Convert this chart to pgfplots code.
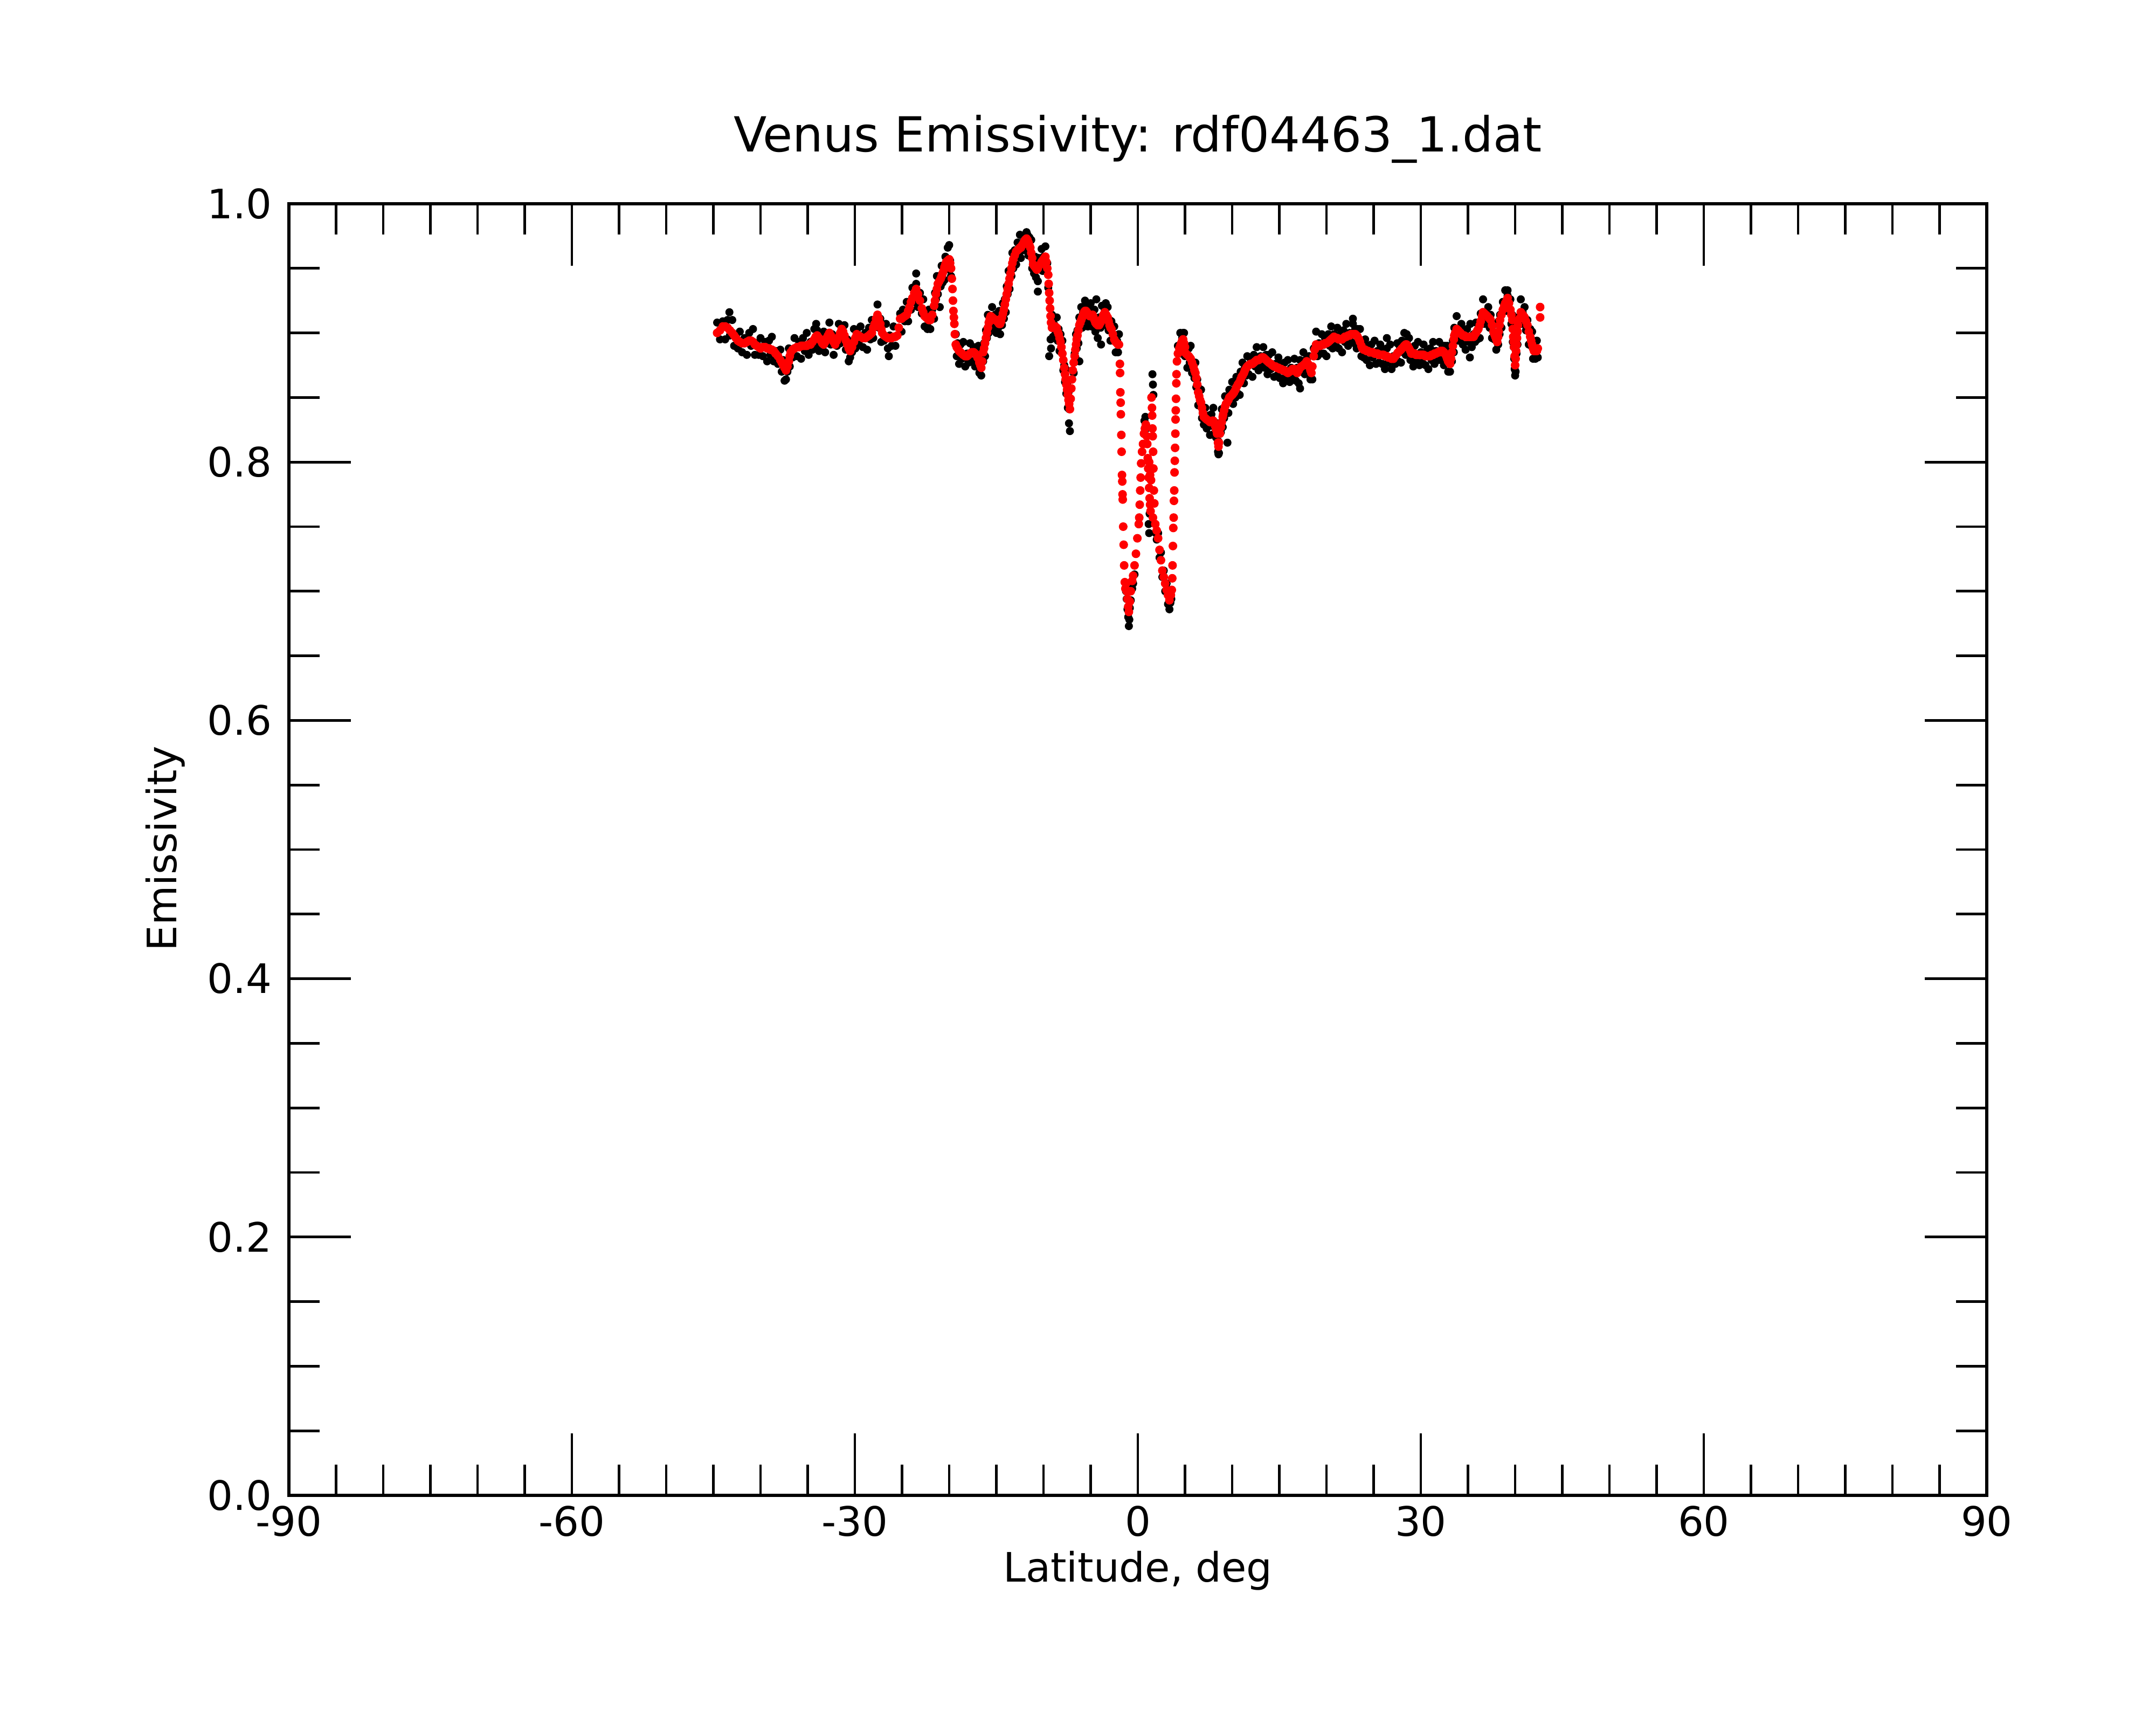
\documentclass[border=0pt]{standalone}
\usepackage{fontspec}
\setmainfont{DejaVu Sans}
\usepackage{pgfplots}
\pgfplotsset{compat=1.18}
\begin{document}
\begin{tikzpicture}
\useasboundingbox (0,0) rectangle (10in,8in);
\begin{axis}[
  at={(1.34in,1.065in)}, anchor=south west,
  scale only axis, width=7.875in, height=5.99in,
  xmin=-90, xmax=90, ymin=0, ymax=1,
  xtick={-90,-60,-30,0,30,60,90},
  xticklabels={-90,-60,-30,0,30,60,90},
  ytick={0,0.2,0.4,0.6,0.8,1.0},
  yticklabels={0.0,0.2,0.4,0.6,0.8,1.0},
  minor x tick num=5, minor y tick num=3,
  tick pos=both, tick align=inside,
  major tick length=20.7pt, minor tick length=10.3pt,
  every tick/.style={black, line width=0.85pt},
  axis line style={line width=0.95pt},
  tick label style={font=\fontsize{13.6}{16}\selectfont},
  yticklabel style={xshift=-2.2pt},
  clip=false,
]
\addplot[only marks, mark=*, mark size=1.15pt, black, mark options={draw=none,fill=black}] table {
x y
-44.6 0.908
-44.3 0.895
-44.0 0.909
-43.75 0.895
-43.5 0.910
-43.3 0.916
-43.25 0.898
-43.0 0.910
-42.8 0.890
-42.6 0.898
-42.4 0.888
-42.2 0.901
-41.95 0.885
-41.7 0.896
-41.45 0.883
-41.2 0.900
-41.0 0.890
-40.8 0.903
-40.6 0.883
-40.4 0.892
-40.2 0.883
-40.0 0.896
-39.75 0.882
-39.5 0.893
-39.3 0.878
-39.1 0.894
-38.95 0.883
-38.8 0.897
-38.6 0.878
-38.4 0.886
-38.15 0.876
-37.9 0.887
-37.75 0.870
-37.6 0.879
-37.45 0.863
-37.3 0.877
-37.3 0.864
-37.15 0.870
-37.0 0.888
-36.9 0.874
-36.8 0.887
-36.6 0.881
-36.4 0.896
-36.15 0.882
-35.9 0.893
-35.7 0.880
-35.5 0.896
-35.3 0.886
-35.1 0.900
-34.9 0.883
-34.7 0.893
-34.5 0.887
-34.3 0.903
-34.15 0.890
-34.1 0.907
-34.0 0.902
-33.8 0.886
-33.6 0.900
-33.45 0.888
-33.3 0.901
-33.15 0.885
-33.0 0.898
-32.85 0.892
-32.7 0.908
-32.55 0.891
-32.4 0.899
-32.25 0.883
-32.1 0.897
-31.9 0.890
-31.7 0.907
-31.55 0.892
-31.4 0.905
-31.25 0.895
-31.1 0.906
-30.95 0.887
-30.8 0.895
-30.65 0.878
-30.5 0.892
-30.5 0.881
-30.3 0.885
-30.1 0.903
-29.95 0.888
-29.8 0.901
-29.6 0.892
-29.4 0.905
-29.15 0.889
-28.9 0.900
-28.7 0.887
-28.5 0.904
-28.35 0.895
-28.2 0.910
-28.05 0.896
-27.9 0.909
-27.75 0.905
-27.6 0.922
-27.45 0.904
-27.3 0.911
-27.2 0.893
-27.1 0.906
-26.9 0.894
-26.7 0.907
-26.5 0.888
-26.4 0.882
-26.3 0.898
-26.1 0.890
-25.9 0.905
-25.7 0.890
-25.2 0.915
-25.05 0.901
-24.9 0.918
-24.7 0.909
-24.5 0.924
-24.35 0.909
-24.2 0.922
-24.05 0.918
-23.9 0.935
-23.7 0.924
-23.5 0.938
-23.5 0.946
-23.3 0.920
-23.1 0.931
-22.9 0.915
-22.75 0.926
-22.6 0.905
-22.45 0.914
-22.3 0.905
-22.3 0.903
-22.15 0.918
-22.0 0.903
-21.8 0.918
-21.6 0.911
-21.5 0.931
-21.4 0.926
-21.3 0.944
-21.2 0.930
-21.05 0.942
-21.0 0.920
-20.9 0.936
-20.8 0.952
-20.7 0.939
-20.6 0.952
-20.5 0.941
-20.4 0.959
-20.3 0.951
-20.15 0.966
-20.0 0.949
-20.0 0.968
-19.9 0.956
-19.8 0.944
-19.3 0.899
-19.2 0.882
-19.1 0.892
-18.95 0.876
-18.8 0.891
-18.65 0.880
-18.5 0.893
-18.3 0.874
-18.1 0.884
-17.95 0.877
-17.8 0.892
-17.6 0.878
-17.4 0.889
-17.25 0.874
-17.1 0.889
-17.0 0.877
-16.9 0.890
-16.8 0.869
-16.7 0.877
-16.6 0.867
-16.5 0.886
-16.4 0.878
-16.3 0.892
-16.2 0.882
-16.1 0.902
-16.0 0.896
-15.9 0.914
-15.8 0.900
-15.7 0.913
-15.6 0.907
-15.45 0.920
-15.3 0.904
-15.15 0.914
-15.0 0.900
-14.9 0.915
-14.8 0.904
-14.7 0.917
-14.6 0.899
-14.5 0.911
-14.4 0.906
-14.3 0.923
-14.2 0.911
-14.1 0.926
-14.0 0.916
-13.9 0.936
-13.8 0.930
-13.7 0.948
-13.6 0.934
-13.5 0.948
-13.4 0.944
-13.3 0.962
-13.2 0.950
-13.05 0.964
-12.9 0.953
-12.75 0.970
-12.6 0.961
-12.5 0.976
-12.4 0.958
-12.25 0.970
-12.1 0.964
-11.95 0.976
-11.8 0.966
-11.8 0.978
-11.7 0.976
-11.6 0.960
-11.5 0.974
-11.4 0.962
-11.3 0.972
-11.2 0.950
-11.1 0.955
-11.0 0.946
-10.9 0.959
-10.8 0.943
-10.7 0.953
-10.6 0.940
-10.6 0.932
-10.5 0.958
-10.35 0.949
-10.2 0.965
-10.1 0.948
-10.0 0.959
-9.9 0.952
-9.8 0.967
-9.7 0.948
-9.6 0.954
-9.5 0.935
-9.4 0.882
-9.25 0.895
-9.2 0.888
-9.1 0.914
-9.0 0.897
-8.9 0.907
-8.75 0.899
-8.6 0.912
-8.5 0.894
-8.4 0.903
-8.3 0.886
-8.2 0.899
-8.1 0.885
-8.0 0.894
-7.9 0.871
-7.8 0.875
-7.72 0.862
-7.65 0.872
-7.58 0.853
-7.5 0.860
-7.42 0.842
-7.35 0.854
-7.3 0.830
-7.28 0.841
-7.2 0.824
-6.8 0.869
-6.7 0.884
-6.62 0.881
-6.55 0.899
-6.48 0.888
-6.4 0.902
-6.3 0.892
-6.2 0.912
-6.2 0.878
-6.1 0.904
-6.0 0.920
-5.9 0.904
-5.8 0.916
-5.7 0.910
-5.6 0.925
-5.5 0.910
-5.4 0.920
-5.3 0.905
-5.2 0.920
-5.1 0.909
-5.0 0.923
-4.9 0.905
-4.8 0.916
-4.7 0.906
-4.6 0.918
-4.5 0.901
-4.4 0.911
-4.4 0.926
-4.25 0.896
-4.1 0.912
-3.95 0.904
-3.9 0.891
-3.8 0.921
-3.65 0.906
-3.5 0.918
-3.4 0.923
-3.35 0.908
-3.2 0.920
-3.1 0.902
-3.0 0.910
-2.9 0.894
-2.8 0.909
-2.65 0.895
-2.5 0.905
-2.35 0.885
-2.2 0.894
-2.1 0.885
-2.0 0.899
-1.25 0.700
-1.18 0.694
-1.1 0.686
-1.02 0.680
-0.95 0.673
-0.9 0.678
-0.85 0.687
-0.75 0.693
-0.6 0.702
-0.5 0.706
-0.35 0.713
0.7 0.832
0.8 0.835
0.9 0.826
1.15 0.752
1.2 0.745
1.25 0.760
1.55 0.868
1.6 0.860
1.65 0.852
1.9 0.745
2.0 0.740
2.15 0.745
2.3 0.726
2.45 0.730
2.6 0.711
2.75 0.716
2.9 0.700
3.05 0.706
3.2 0.690
3.35 0.686
3.45 0.691
3.55 0.694
4.25 0.890
4.4 0.884
4.5 0.900
4.6 0.884
4.7 0.896
4.8 0.889
4.8 0.900
4.9 0.900
5.0 0.882
5.1 0.888
5.25 0.873
5.4 0.888
5.5 0.877
5.6 0.890
5.75 0.869
5.9 0.876
6.0 0.865
6.1 0.877
6.2 0.858
6.3 0.864
6.4 0.844
6.5 0.857
6.6 0.844
6.7 0.856
6.8 0.834
6.9 0.840
7.0 0.829
7.15 0.842
7.3 0.826
7.5 0.836
7.65 0.821
7.8 0.837
7.9 0.828
8.0 0.842
8.1 0.822
8.2 0.830
8.3 0.819
8.4 0.830
8.5 0.808
8.55 0.816
8.55 0.806
8.6 0.807
8.7 0.828
8.8 0.823
8.9 0.841
9.0 0.827
9.05 0.839
9.15 0.834
9.25 0.851
9.35 0.838
9.45 0.850
9.5 0.815
9.6 0.838
9.7 0.856
9.85 0.847
10.0 0.862
10.1 0.845
10.2 0.856
10.35 0.850
10.45 0.866
10.6 0.853
10.7 0.865
10.8 0.852
10.9 0.870
11.0 0.862
11.1 0.877
11.25 0.861
11.35 0.873
11.5 0.867
11.6 0.882
11.75 0.868
11.95 0.880
12.15 0.866
12.3 0.883
12.45 0.874
12.6 0.889
12.8 0.871
13.0 0.882
13.15 0.875
13.3 0.889
13.45 0.873
13.6 0.883
13.75 0.868
13.9 0.883
14.1 0.872
14.25 0.885
14.45 0.866
14.6 0.876
14.75 0.867
14.9 0.881
15.05 0.865
15.2 0.876
15.4 0.861
15.55 0.877
15.7 0.866
15.9 0.879
16.1 0.862
16.25 0.873
16.4 0.866
16.6 0.880
16.75 0.863
16.9 0.873
17.05 0.861
17.2 0.879
17.2 0.857
17.35 0.870
17.55 0.885
17.7 0.868
17.9 0.880
18.05 0.870
18.15 0.882
18.3 0.864
18.4 0.873
18.5 0.864
18.65 0.888
18.75 0.883
18.9 0.901
19.05 0.882
19.2 0.892
19.35 0.884
19.5 0.899
19.7 0.884
19.85 0.896
20.0 0.882
20.2 0.899
20.35 0.890
20.5 0.905
20.65 0.888
20.8 0.899
21.0 0.890
21.15 0.904
21.3 0.888
21.5 0.899
21.65 0.885
21.8 0.902
21.95 0.893
22.1 0.907
22.3 0.890
22.45 0.900
22.6 0.893
22.8 0.907
22.8 0.911
22.95 0.892
23.05 0.903
23.2 0.888
23.3 0.903
23.45 0.891
23.55 0.903
23.7 0.882
23.8 0.890
23.95 0.881
24.1 0.895
24.25 0.879
24.4 0.890
24.6 0.875
24.75 0.891
24.9 0.881
25.1 0.894
25.25 0.876
25.4 0.886
25.55 0.877
25.7 0.891
25.9 0.876
26.05 0.887
26.2 0.872
26.4 0.888
26.4 0.896
26.55 0.877
26.75 0.891
26.9 0.872
27.1 0.882
27.3 0.876
27.5 0.892
27.6 0.878
27.75 0.890
27.9 0.877
28.0 0.894
28.15 0.885
28.25 0.900
28.4 0.883
28.5 0.893
28.5 0.899
28.6 0.884
28.75 0.896
28.9 0.879
29.0 0.888
29.2 0.874
29.35 0.890
29.5 0.879
29.7 0.893
29.85 0.875
30.0 0.885
30.15 0.877
30.3 0.891
30.5 0.875
30.65 0.886
30.8 0.872
31.0 0.888
31.15 0.879
31.3 0.893
31.45 0.876
31.6 0.886
31.8 0.879
31.95 0.893
32.1 0.879
32.3 0.890
32.45 0.875
32.55 0.890
32.7 0.878
32.8 0.890
32.9 0.870
33.0 0.879
33.1 0.870
33.2 0.888
33.3 0.878
33.4 0.894
33.5 0.885
33.55 0.904
33.65 0.896
33.8 0.913
33.95 0.894
34.05 0.903
34.2 0.894
34.3 0.907
34.45 0.891
34.6 0.902
34.75 0.887
34.9 0.903
35.1 0.893
35.2 0.881
35.25 0.907
35.4 0.889
35.6 0.899
35.75 0.893
35.85 0.908
36.0 0.895
36.1 0.907
36.25 0.896
36.35 0.915
36.5 0.909
36.6 0.926
36.75 0.907
36.9 0.916
37.05 0.907
37.15 0.920
37.3 0.904
37.4 0.914
37.55 0.896
37.7 0.907
37.8 0.895
37.9 0.907
38.0 0.887
38.1 0.895
38.2 0.891
38.25 0.909
38.35 0.899
38.4 0.914
38.55 0.904
38.7 0.924
38.85 0.917
38.95 0.933
39.1 0.917
39.2 0.929
39.2 0.933
39.35 0.917
39.5 0.926
39.6 0.907
39.7 0.914
39.75 0.893
39.8 0.903
39.85 0.889
39.9 0.880
39.95 0.872
40.0 0.867
40.05 0.870
40.1 0.894
40.15 0.884
40.2 0.900
40.25 0.891
40.3 0.912
40.45 0.907
40.6 0.926
40.7 0.907
40.8 0.916
40.9 0.907
41.0 0.920
41.15 0.902
41.3 0.910
41.45 0.891
41.6 0.903
41.7 0.890
41.8 0.901
41.9 0.880
42.0 0.888
42.15 0.880
42.3 0.894
42.4 0.881
};
\addplot[only marks, mark=*, mark size=1.25pt, red, mark options={draw=none,fill=red}] table {
x y
-44.6 0.900
-44.3 0.902
-44.0 0.905
-43.75 0.905
-43.5 0.904
-43.25 0.902
-43.0 0.900
-42.8 0.898
-42.6 0.896
-42.4 0.894
-42.2 0.893
-41.95 0.892
-41.7 0.892
-41.45 0.893
-41.2 0.894
-41.0 0.894
-40.8 0.893
-40.6 0.891
-40.4 0.890
-40.2 0.889
-40.0 0.888
-39.75 0.889
-39.5 0.889
-39.3 0.888
-39.1 0.888
-38.95 0.887
-38.8 0.887
-38.6 0.886
-38.4 0.884
-38.15 0.882
-37.9 0.879
-37.75 0.877
-37.6 0.875
-37.45 0.873
-37.3 0.871
-37.15 0.874
-37.0 0.878
-36.9 0.882
-36.8 0.885
-36.6 0.887
-36.4 0.888
-36.15 0.889
-35.9 0.889
-35.7 0.890
-35.5 0.890
-35.3 0.890
-35.1 0.890
-34.9 0.891
-34.7 0.891
-34.5 0.893
-34.3 0.895
-34.15 0.897
-34.0 0.898
-33.8 0.896
-33.6 0.894
-33.45 0.892
-33.3 0.891
-33.15 0.893
-33.0 0.896
-32.85 0.898
-32.7 0.900
-32.55 0.898
-32.4 0.895
-32.25 0.893
-32.1 0.891
-31.9 0.894
-31.7 0.897
-31.55 0.900
-31.4 0.903
-31.25 0.901
-31.1 0.898
-30.95 0.894
-30.8 0.891
-30.65 0.888
-30.5 0.886
-30.3 0.889
-30.1 0.893
-29.95 0.896
-29.8 0.899
-29.6 0.898
-29.4 0.897
-29.15 0.896
-28.9 0.896
-28.7 0.897
-28.5 0.898
-28.35 0.899
-28.2 0.900
-28.05 0.904
-27.9 0.907
-27.75 0.911
-27.6 0.914
-27.45 0.911
-27.3 0.907
-27.2 0.903
-27.1 0.900
-26.9 0.898
-26.7 0.897
-26.5 0.896
-26.3 0.896
-26.1 0.896
-25.9 0.897
-25.7 0.897
-25.5 0.898
-25.35 0.904
-25.2 0.911
-25.05 0.911
-24.9 0.912
-24.7 0.913
-24.5 0.914
-24.35 0.917
-24.2 0.920
-24.05 0.924
-23.9 0.927
-23.7 0.931
-23.5 0.934
-23.3 0.930
-23.1 0.925
-22.9 0.919
-22.75 0.916
-22.6 0.913
-22.45 0.912
-22.3 0.911
-22.15 0.910
-22.0 0.910
-21.8 0.914
-21.6 0.921
-21.5 0.925
-21.4 0.930
-21.3 0.934
-21.2 0.938
-21.05 0.940
-20.9 0.942
-20.8 0.944
-20.7 0.946
-20.6 0.948
-20.5 0.951
-20.4 0.953
-20.3 0.955
-20.15 0.956
-20.0 0.957
-19.9 0.954
-19.8 0.950
-19.72 0.942
-19.65 0.934
-19.6 0.925
-19.55 0.917
-19.5 0.912
-19.45 0.907
-19.4 0.899
-19.3 0.891
-19.2 0.889
-19.1 0.888
-18.95 0.886
-18.8 0.885
-18.65 0.884
-18.5 0.883
-18.3 0.882
-18.1 0.882
-17.95 0.883
-17.8 0.884
-17.6 0.885
-17.4 0.885
-17.25 0.884
-17.1 0.883
-17.0 0.881
-16.9 0.880
-16.8 0.877
-16.7 0.875
-16.6 0.873
-16.5 0.878
-16.4 0.885
-16.3 0.888
-16.2 0.892
-16.1 0.896
-16.0 0.900
-15.9 0.904
-15.8 0.908
-15.7 0.911
-15.6 0.913
-15.45 0.912
-15.3 0.911
-15.15 0.910
-15.0 0.910
-14.9 0.909
-14.8 0.908
-14.7 0.907
-14.6 0.907
-14.5 0.909
-14.4 0.912
-14.3 0.915
-14.2 0.918
-14.1 0.922
-14.0 0.926
-13.9 0.930
-13.8 0.934
-13.7 0.938
-13.6 0.942
-13.5 0.946
-13.4 0.950
-13.3 0.954
-13.2 0.957
-13.05 0.960
-12.9 0.963
-12.75 0.964
-12.6 0.965
-12.5 0.966
-12.4 0.966
-12.25 0.968
-12.1 0.970
-11.95 0.972
-11.8 0.973
-11.7 0.972
-11.6 0.970
-11.5 0.968
-11.4 0.966
-11.3 0.962
-11.2 0.958
-11.1 0.953
-11.0 0.952
-10.9 0.951
-10.8 0.950
-10.7 0.949
-10.6 0.950
-10.5 0.952
-10.35 0.953
-10.2 0.955
-10.1 0.956
-10.0 0.957
-9.9 0.958
-9.8 0.959
-9.7 0.955
-9.6 0.950
-9.5 0.945
-9.45 0.938
-9.4 0.931
-9.35 0.925
-9.3 0.919
-9.25 0.913
-9.2 0.908
-9.1 0.904
-9.0 0.905
-8.9 0.905
-8.75 0.905
-8.6 0.904
-8.5 0.901
-8.4 0.899
-8.3 0.896
-8.2 0.893
-8.1 0.889
-8.0 0.884
-7.9 0.879
-7.8 0.873
-7.72 0.868
-7.65 0.864
-7.58 0.860
-7.5 0.856
-7.42 0.852
-7.35 0.848
-7.28 0.845
-7.2 0.841
-7.12 0.849
-7.05 0.857
-6.98 0.864
-6.9 0.871
-6.8 0.877
-6.7 0.882
-6.62 0.887
-6.55 0.891
-6.48 0.895
-6.4 0.898
-6.3 0.902
-6.2 0.906
-6.1 0.908
-6.0 0.910
-5.9 0.912
-5.8 0.914
-5.7 0.916
-5.6 0.917
-5.5 0.917
-5.4 0.916
-5.3 0.915
-5.2 0.914
-5.1 0.913
-5.0 0.913
-4.9 0.913
-4.8 0.914
-4.7 0.912
-4.6 0.910
-4.5 0.908
-4.4 0.907
-4.25 0.906
-4.1 0.906
-3.95 0.908
-3.8 0.911
-3.65 0.914
-3.5 0.916
-3.35 0.914
-3.2 0.912
-3.1 0.909
-3.0 0.906
-2.9 0.904
-2.8 0.903
-2.65 0.899
-2.5 0.895
-2.35 0.893
-2.2 0.892
-2.1 0.891
-2.0 0.891
-1.9 0.876
-1.88 0.869
-1.85 0.854
-1.82 0.846
-1.8 0.837
-1.75 0.821
-1.72 0.808
-1.68 0.790
-1.65 0.785
-1.62 0.775
-1.6 0.771
-1.55 0.750
-1.5 0.736
-1.45 0.720
-1.38 0.707
-1.32 0.702
-1.25 0.706
-1.18 0.700
-1.1 0.694
-1.02 0.688
-0.95 0.684
-0.85 0.692
-0.75 0.700
-0.6 0.708
-0.5 0.712
-0.35 0.720
-0.2 0.729
-0.05 0.741
0.1 0.752
0.15 0.757
0.2 0.767
0.25 0.778
0.3 0.788
0.35 0.799
0.45 0.808
0.55 0.814
0.65 0.822
0.75 0.826
0.85 0.829
0.95 0.820
1.0 0.814
1.05 0.803
1.1 0.795
1.15 0.788
1.2 0.780
1.25 0.772
1.3 0.767
1.35 0.762
1.2 0.800
1.3 0.790
1.4 0.786
1.45 0.850
1.5 0.842
1.52 0.836
1.55 0.826
1.58 0.820
1.62 0.808
1.65 0.795
1.7 0.778
1.75 0.768
1.6 0.757
1.85 0.752
2.0 0.747
2.15 0.741
2.3 0.732
2.45 0.724
2.6 0.716
2.75 0.711
2.9 0.706
3.05 0.701
3.2 0.697
3.35 0.693
3.5 0.697
3.6 0.701
3.65 0.710
3.68 0.720
3.72 0.735
3.76 0.749
3.8 0.757
3.83 0.770
3.86 0.778
3.89 0.792
3.92 0.801
3.95 0.811
3.98 0.822
4.0 0.833
4.02 0.840
4.05 0.849
4.08 0.861
4.1 0.868
4.15 0.878
4.25 0.884
4.4 0.888
4.5 0.890
4.6 0.892
4.7 0.894
4.8 0.895
4.9 0.892
5.0 0.889
5.1 0.884
5.25 0.883
5.4 0.882
5.5 0.881
5.6 0.880
5.75 0.877
5.9 0.874
6.0 0.871
6.1 0.869
6.2 0.865
6.3 0.860
6.4 0.854
6.5 0.851
6.6 0.848
6.7 0.846
6.8 0.842
6.9 0.838
7.0 0.835
7.15 0.834
7.3 0.833
7.5 0.832
7.65 0.831
7.8 0.831
7.9 0.832
8.0 0.832
8.1 0.830
8.2 0.828
8.3 0.825
8.4 0.822
8.5 0.815
8.55 0.812
8.6 0.815
8.7 0.822
8.8 0.827
8.9 0.831
9.0 0.835
9.05 0.837
9.15 0.840
9.25 0.843
9.35 0.845
9.45 0.846
9.6 0.848
9.7 0.850
9.85 0.851
10.0 0.852
10.1 0.853
10.2 0.854
10.35 0.856
10.45 0.858
10.6 0.860
10.7 0.861
10.8 0.862
10.9 0.864
11.0 0.866
11.1 0.867
11.25 0.869
11.35 0.871
11.5 0.873
11.6 0.874
11.75 0.875
11.95 0.876
12.15 0.876
12.3 0.877
12.45 0.878
12.6 0.879
12.8 0.879
13.0 0.880
13.15 0.881
13.3 0.881
13.45 0.880
13.6 0.879
13.75 0.878
13.9 0.877
14.1 0.876
14.25 0.875
14.45 0.874
14.6 0.874
14.75 0.873
14.9 0.873
15.05 0.872
15.2 0.872
15.4 0.871
15.55 0.871
15.7 0.870
15.9 0.869
16.1 0.870
16.25 0.871
16.4 0.872
16.6 0.872
16.75 0.870
16.9 0.869
17.05 0.871
17.2 0.873
17.35 0.874
17.55 0.875
17.7 0.876
17.9 0.878
18.05 0.876
18.15 0.874
18.3 0.871
18.4 0.869
18.5 0.874
18.65 0.882
18.75 0.887
18.9 0.891
19.05 0.890
19.2 0.890
19.35 0.890
19.5 0.891
19.7 0.891
19.85 0.892
20.0 0.892
20.2 0.893
20.35 0.894
20.5 0.895
20.65 0.896
20.8 0.897
21.0 0.896
21.15 0.896
21.3 0.895
21.5 0.895
21.65 0.895
21.8 0.896
21.95 0.897
22.1 0.897
22.3 0.898
22.45 0.898
22.6 0.899
22.8 0.899
22.95 0.899
23.05 0.899
23.2 0.898
23.3 0.897
23.45 0.895
23.55 0.893
23.7 0.890
23.8 0.888
23.95 0.887
24.1 0.887
24.25 0.886
24.4 0.886
24.6 0.885
24.75 0.885
24.9 0.885
25.1 0.884
25.25 0.884
25.4 0.884
25.55 0.883
25.7 0.883
25.9 0.883
26.05 0.883
26.2 0.882
26.4 0.882
26.55 0.881
26.75 0.881
26.9 0.880
27.1 0.880
27.3 0.882
27.5 0.884
27.6 0.885
27.75 0.886
27.9 0.887
28.0 0.888
28.15 0.889
28.25 0.890
28.4 0.891
28.5 0.891
28.6 0.890
28.75 0.888
28.9 0.886
29.0 0.884
29.2 0.884
29.35 0.884
29.5 0.883
29.7 0.883
29.85 0.883
30.0 0.883
30.15 0.883
30.3 0.883
30.5 0.882
30.65 0.882
30.8 0.882
31.0 0.882
31.15 0.883
31.3 0.883
31.45 0.884
31.6 0.884
31.8 0.885
31.95 0.885
32.1 0.886
32.3 0.886
32.45 0.885
32.55 0.884
32.7 0.882
32.8 0.880
32.9 0.878
33.0 0.877
33.1 0.876
33.2 0.880
33.3 0.885
33.4 0.890
33.5 0.895
33.55 0.898
33.65 0.900
33.8 0.903
33.95 0.902
34.05 0.901
34.2 0.900
34.3 0.899
34.45 0.898
34.6 0.898
34.75 0.897
34.9 0.897
35.1 0.897
35.25 0.897
35.4 0.897
35.6 0.897
35.75 0.899
35.85 0.900
36.0 0.902
36.1 0.903
36.25 0.906
36.35 0.909
36.5 0.913
36.6 0.916
36.75 0.915
36.9 0.914
37.05 0.913
37.15 0.912
37.3 0.911
37.4 0.910
37.55 0.906
37.7 0.901
37.8 0.899
37.9 0.897
38.0 0.895
38.1 0.893
38.2 0.897
38.25 0.901
38.35 0.906
38.4 0.910
38.55 0.914
38.7 0.918
38.85 0.921
38.95 0.923
39.1 0.925
39.2 0.927
39.35 0.923
39.5 0.918
39.6 0.914
39.7 0.910
39.75 0.903
39.8 0.897
39.85 0.893
39.9 0.889
39.95 0.882
40.0 0.875
40.05 0.880
40.1 0.886
40.15 0.891
40.2 0.896
40.25 0.901
40.3 0.906
40.45 0.911
40.6 0.916
40.7 0.915
40.8 0.914
40.9 0.913
41.0 0.912
41.15 0.909
41.3 0.906
41.45 0.901
41.6 0.897
41.7 0.894
41.8 0.891
41.9 0.888
42.0 0.886
42.15 0.886
42.3 0.886
42.4 0.888
42.65 0.912
42.65 0.920
};
\end{axis}
\node[anchor=base, font=\fontsize{16.2}{19}\selectfont] at (5.2775in,7.295in) {Venus Emissivity: rdf04463\_1.dat};
\node[anchor=base, font=\fontsize{13.6}{16}\selectfont] at (5.2775in,0.6625in) {Latitude, deg};
\node[anchor=base, rotate=90, font=\fontsize{13.6}{16}\selectfont] at (0.8175in,4.065in) {Emissivity};
\end{tikzpicture}
\end{document}
